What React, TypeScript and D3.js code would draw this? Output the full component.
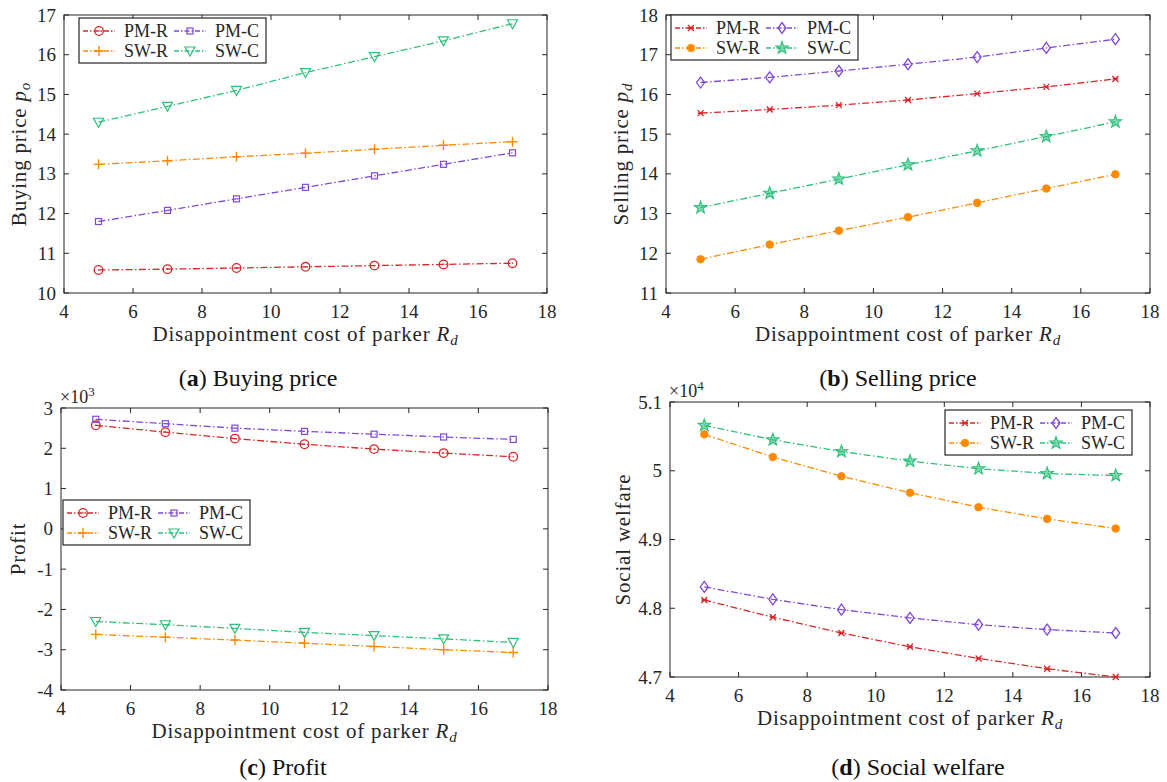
import * as d3 from "d3";

// x values (disappointment cost R_d)
const costs = [5, 7, 9, 11, 13, 15, 17];
const xTicks = [4, 6, 8, 10, 12, 14, 16, 18];

// (a) buying price
const buyPMR = [10.58, 10.6, 10.63, 10.66, 10.69, 10.72, 10.75];
const buyPMC = [11.8, 12.08, 12.37, 12.66, 12.95, 13.24, 13.53];
const buySWR = [13.24, 13.33, 13.43, 13.52, 13.62, 13.72, 13.81];
const buySWC = [14.3, 14.7, 15.1, 15.55, 15.95, 16.35, 16.78];

// (b) selling price
const sellPMR = [15.53, 15.62, 15.73, 15.86, 16.02, 16.19, 16.39];
const sellPMC = [16.3, 16.43, 16.59, 16.76, 16.94, 17.17, 17.39];
const sellSWR = [11.85, 12.22, 12.57, 12.91, 13.27, 13.63, 13.99];
const sellSWC = [13.15, 13.51, 13.87, 14.23, 14.58, 14.94, 15.31];

// (c) profit, x10^3
const profPMR = [2.57, 2.4, 2.24, 2.1, 1.98, 1.88, 1.79];
const profPMC = [2.72, 2.61, 2.5, 2.42, 2.35, 2.28, 2.22];
const profSWR = [-2.62, -2.69, -2.76, -2.84, -2.92, -3.0, -3.07];
const profSWC = [-2.3, -2.38, -2.47, -2.57, -2.65, -2.73, -2.82];

// (d) social welfare, x10^4
const welPMR = [4.812, 4.787, 4.764, 4.744, 4.727, 4.712, 4.7];
const welPMC = [4.831, 4.813, 4.798, 4.786, 4.776, 4.769, 4.764];
const welSWR = [5.053, 5.02, 4.992, 4.968, 4.947, 4.93, 4.916];
const welSWC = [5.066, 5.045, 5.028, 5.014, 5.003, 4.996, 4.993];

const seriesNames = ["PM-R", "PM-C", "SW-R", "SW-C"];
const colors = ["#d9262b", "#7f4ad8", "#ff8a00", "#2fc07c"];

const FONT = "'Liberation Serif', 'Times New Roman', Times, serif";
const AXIS = "#262626";
const TXT = "#262626";

const marker = (type: string, cx: number, cy: number, c: string, key: any) => {
  switch (type) {
    case "circle":
      return (
        <g key={key}>
          <circle cx={cx} cy={cy} r={4.3} fill="none" stroke={c} strokeWidth={1.3} />
          <circle cx={cx} cy={cy} r={0.8} fill={c} />
        </g>
      );
    case "square":
      return <rect key={key} x={cx - 3} y={cy - 3} width={6} height={6} fill="none" stroke={c} strokeWidth={1.2} />;
    case "plus":
      return <path key={key} d={`M${cx - 5},${cy}H${cx + 5}M${cx},${cy - 5}V${cy + 5}`} stroke={c} strokeWidth={1.4} />;
    case "tri":
      return <path key={key} d={`M${cx - 5},${cy - 4}L${cx + 5},${cy - 4}L${cx},${cy + 5}Z`} fill="none" stroke={c} strokeWidth={1.2} />;
    case "x":
      return (
        <path key={key} d={`M${cx - 3},${cy - 3}L${cx + 3},${cy + 3}M${cx - 3},${cy + 3}L${cx + 3},${cy - 3}M${cx - 3},${cy}H${cx + 3}`} stroke={c} strokeWidth={1.3} />
      );
    case "diamond":
      return <path key={key} d={`M${cx},${cy - 5.5}L${cx + 4},${cy}L${cx},${cy + 5.5}L${cx - 4},${cy}Z`} fill="none" stroke={c} strokeWidth={1.3} />;
    case "dot":
      return <circle key={key} cx={cx} cy={cy} r={3.8} fill={c} stroke={c} strokeWidth={0.8} />;
    case "star": {
      const pts = d3.range(10).map((i) => {
        const r = i % 2 === 0 ? 6.5 : 2.7;
        const a = -Math.PI / 2 + (i * Math.PI) / 5;
        return [cx + r * Math.cos(a), cy + r * Math.sin(a)];
      });
      return <path key={key} d={"M" + pts.map((p) => p.join(",")).join("L") + "Z"} fill={c} fillOpacity={0.6} stroke={c} strokeWidth={1.1} />;
    }
  }
  return null;
};

type PanelProps = {
  left: number;
  right: number;
  top: number;
  bottom: number;
  yDomain: [number, number];
  yTicks: number[];
  yFmt?: (v: number) => string;
  series: number[][];
  markers: string[];
  legend: [number, number];
  yTitle: any;
  yTitleX: number;
  exponent?: string;
  caption: [string, string];
  captionX: number;
  captionY: number;
};

const dash = "7,2.5,1.5,2.5";

const Panel = (p: PanelProps) => {
  const x = d3.scaleLinear().domain([4, 18]).range([p.left, p.right]);
  const y = d3.scaleLinear().domain(p.yDomain).range([p.bottom, p.top]);
  const line = d3
    .line<number>()
    .x((_, i) => x(costs[i]))
    .y((v) => y(v));
  const tl = 5;
  const [bx, by] = p.legend;
  const midX = (p.left + p.right) / 2;
  return (
    <g fontFamily={FONT}>
      {/* frame */}
      <rect x={p.left} y={p.top} width={p.right - p.left} height={p.bottom - p.top} fill="white" stroke={AXIS} strokeWidth={1} />
      {xTicks.map((t) => (
        <g key={"xt" + t}>
          <line x1={x(t)} x2={x(t)} y1={p.bottom} y2={p.bottom - tl} stroke={AXIS} />
          <line x1={x(t)} x2={x(t)} y1={p.top} y2={p.top + tl} stroke={AXIS} />
          <text x={x(t)} y={p.bottom + 25} textAnchor="middle" fontSize={19} fill={TXT}>
            {t}
          </text>
        </g>
      ))}
      {p.yTicks.map((t) => (
        <g key={"yt" + t}>
          <line x1={p.left} x2={p.left + tl} y1={y(t)} y2={y(t)} stroke={AXIS} />
          <line x1={p.right} x2={p.right - tl} y1={y(t)} y2={y(t)} stroke={AXIS} />
          <text x={p.left - 8} y={y(t) + 6.5} textAnchor="end" fontSize={19} fill={TXT}>
            {p.yFmt ? p.yFmt(t) : t}
          </text>
        </g>
      ))}
      {p.exponent && (
        <text x={p.left - 1} y={p.top - 5} fontSize={18} fill={TXT}>
          ×10
          <tspan dy={-7} fontSize={13}>
            {p.exponent}
          </tspan>
        </text>
      )}
      {/* series */}
      {p.series.map((s, si) => (
        <g key={"s" + si}>
          <path d={line(s) || ""} fill="none" stroke={colors[si]} strokeWidth={1.3} strokeDasharray={dash} />
          {s.map((v, i) => marker(p.markers[si], x(costs[i]), y(v), colors[si], i))}
        </g>
      ))}
      {/* legend */}
      <rect x={bx} y={by} width={187} height={45} fill="white" stroke={AXIS} strokeWidth={1.2} />
      {seriesNames.map((n, i) => {
        const col = i % 2;
        const row = Math.floor(i / 2);
        const lx = bx + 4 + col * 91;
        const ly = by + 13 + row * 20;
        return (
          <g key={"lg" + n}>
            <line x1={lx} x2={lx + 32} y1={ly} y2={ly} stroke={colors[i]} strokeWidth={1.3} strokeDasharray="5,2,1.5,2" />
            {marker(p.markers[i], lx + 16, ly, colors[i], "m")}
            <text x={lx + 41} y={ly + 6} fontSize={18} fill={TXT}>
              {n}
            </text>
          </g>
        );
      })}
      {/* axis titles */}
      <text x={midX} y={p.bottom + 48} textAnchor="middle" fontSize={21} letterSpacing={0.8} fill={TXT}>
        Disappointment cost of parker <tspan fontStyle="italic">R</tspan>
        <tspan fontStyle="italic" fontSize={15} dy={4}>
          d
        </tspan>
      </text>
      <text transform={`translate(${p.yTitleX},${(p.top + p.bottom) / 2}) rotate(-90)`} textAnchor="middle" fontSize={21} letterSpacing={0.8} fill={TXT}>
        {p.yTitle}
      </text>
      {/* caption */}
      <text x={p.captionX} y={p.captionY} textAnchor="middle" fontSize={24} fill="#111">
        (<tspan fontWeight="bold">{p.caption[0]}</tspan>) {p.caption[1]}
      </text>
    </g>
  );
};

const sub = (main: string, s: string) => (
  <>
    {main} <tspan fontStyle="italic">p</tspan>
    <tspan fontStyle="italic" fontSize={15} dy={4}>
      {s}
    </tspan>
  </>
);

export default function App() {
  const mA = ["circle", "square", "plus", "tri"];
  const mB = ["x", "diamond", "dot", "star"];
  return (
    <svg width={1167} height={782} style={{ position: "absolute", left: 0, top: 0, background: "white", fontFamily: FONT }}>
      <rect width={1167} height={782} fill="white" />
      <Panel
        left={64}
        right={547}
        top={15}
        bottom={293}
        yDomain={[10, 17]}
        yTicks={d3.range(10, 18)}
        series={[buyPMR, buyPMC, buySWR, buySWC]}
        markers={mA}
        legend={[79, 18]}
        yTitle={sub("Buying price", "o")}
        yTitleX={26}
        caption={["a", "Buying price"]}
        captionX={258}
        captionY={386}
      />
      <Panel
        left={666}
        right={1150}
        top={15}
        bottom={293}
        yDomain={[11, 18]}
        yTicks={d3.range(11, 19)}
        series={[sellPMR, sellPMC, sellSWR, sellSWC]}
        markers={mB}
        legend={[671, 15]}
        yTitle={sub("Selling price", "d")}
        yTitleX={628}
        caption={["b", "Selling price"]}
        captionX={898}
        captionY={386}
      />
      <Panel
        left={61}
        right={548}
        top={408}
        bottom={690}
        yDomain={[-4, 3]}
        yTicks={d3.range(-4, 4)}
        series={[profPMR, profPMC, profSWR, profSWC]}
        markers={mA}
        legend={[63, 500]}
        yTitle={"Profit"}
        yTitleX={25}
        exponent="3"
        caption={["c", "Profit"]}
        captionX={283}
        captionY={775}
      />
      <Panel
        left={670}
        right={1150}
        top={402}
        bottom={677}
        yDomain={[4.7, 5.1]}
        yTicks={[4.7, 4.8, 4.9, 5.0, 5.1]}
        yFmt={(v) => (Math.abs(v - 5) < 1e-9 ? "5" : v.toFixed(1))}
        series={[welPMR, welPMC, welSWR, welSWC]}
        markers={mB}
        legend={[945, 410]}
        yTitle={"Social welfare"}
        yTitleX={630}
        exponent="4"
        caption={["d", "Social welfare"]}
        captionX={918}
        captionY={775}
      />
    </svg>
  );
}
